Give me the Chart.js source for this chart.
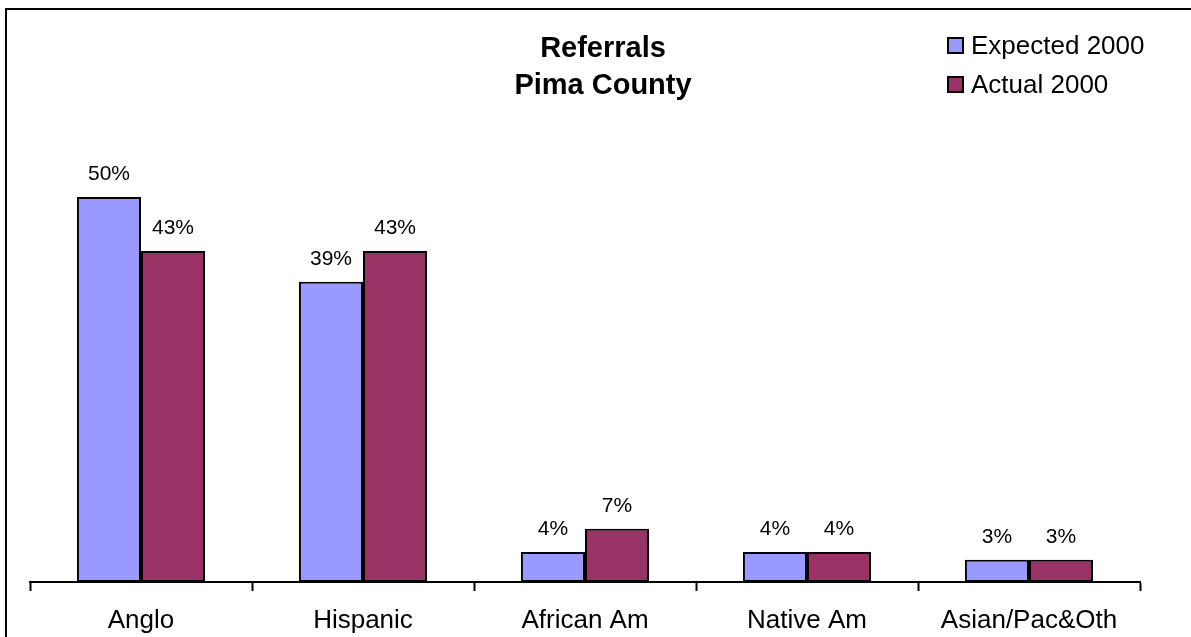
<!DOCTYPE html>
<html>
<head>
<meta charset="utf-8">
<script src="https://cdn.jsdelivr.net/npm/chart.js@4"></script>
<style>
  html, body { margin: 0; padding: 0; background: #fff; overflow: hidden; }
  #wrap { position: relative; width: 1191px; height: 637px; }
  #frame { position: absolute; left: 5px; top: 8px; width: 1300px; height: 700px; border: 2px solid #000; box-sizing: border-box; pointer-events: none; }
</style>
</head>
<body>
<div id="wrap">
  <canvas id="chart" width="1191" height="637"></canvas>
  <div id="frame"></div>
</div>
<script>
const categories = ['Anglo', 'Hispanic', 'African Am', 'Native Am', 'Asian/Pac&Oth'];
const expected2000 = [50, 39, 3.9, 3.9, 2.9];
const actual2000 = [43, 43, 6.9, 3.9, 2.9];
const seriesNames = ['Expected 2000', 'Actual 2000'];
const titleLines = ['Referrals', 'Pima County'];

const FONT = 'Arial, "Liberation Sans", sans-serif';

// value labels above bars, plus title and legend drawn in place
const extras = {
    id: 'extras',
    afterDatasetsDraw(chart) {
        const c = chart.ctx;
        c.save();
        c.fillStyle = '#000';
        c.font = '21px ' + FONT;
        c.textAlign = 'center';
        c.textBaseline = 'alphabetic';
        chart.data.datasets.forEach((ds, i) => {
            chart.getDatasetMeta(i).data.forEach((bar, j) => {
                c.fillText(Math.round(ds.data[j]) + '%', bar.x, bar.y - 17);
            });
        });

        c.font = 'bold 29px ' + FONT;
        c.textBaseline = 'middle';
        c.fillText(titleLines[0], 603, 49);
        c.fillText(titleLines[1], 603, 86);

        c.font = '26px ' + FONT;
        c.textAlign = 'left';
        chart.data.datasets.forEach((ds, i) => {
            const y = 45 + i * 39;
            c.fillStyle = ds.backgroundColor;
            c.fillRect(948, y - 7, 15, 15);
            c.strokeStyle = '#000';
            c.lineWidth = 2;
            c.strokeRect(948, y - 7, 15, 15);
            c.fillStyle = '#000';
            c.fillText(seriesNames[i], 971, y + 2);
        });
        c.restore();
    }
};

new Chart(document.getElementById('chart'), {
    type: 'bar',
    data: {
        labels: categories,
        datasets: [
            {
                label: seriesNames[0],
                data: expected2000,
                backgroundColor: '#9999FF',
                borderColor: '#000',
                borderWidth: 2,
                borderSkipped: false
            },
            {
                label: seriesNames[1],
                data: actual2000,
                backgroundColor: '#993366',
                borderColor: '#000',
                borderWidth: 2,
                borderSkipped: false
            }
        ]
    },
    options: {
        responsive: false,
        animation: false,
        categoryPercentage: 0.577,
        barPercentage: 1,
        layout: { padding: { left: 30, right: 51, top: 120, bottom: 0 } },
        scales: {
            x: {
                grid: {
                    offset: true,
                    drawOnChartArea: false,
                    drawTicks: true,
                    tickLength: 9,
                    tickWidth: 2,
                    tickColor: '#000'
                },
                border: { display: true, color: '#000', width: 2 },
                ticks: {
                    color: '#000',
                    font: { family: FONT, size: 26 },
                    padding: 14,
                    maxRotation: 0
                },
                afterFit(scale) { scale.height = 55; }
            },
            y: {
                display: false,
                min: 0,
                max: 60
            }
        },
        plugins: {
            legend: { display: false },
            title: { display: false },
            tooltip: { enabled: false }
        }
    },
    plugins: [extras]
});
</script>
</body>
</html>
